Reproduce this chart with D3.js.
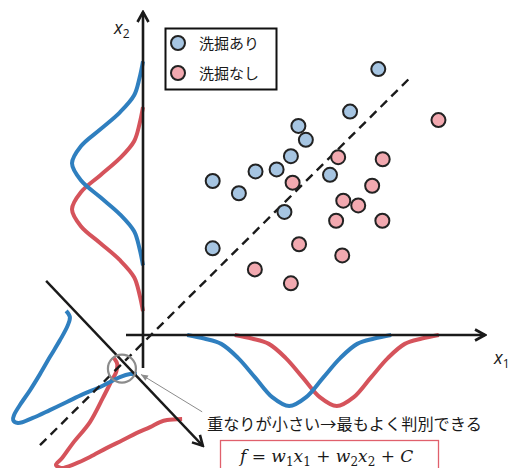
<!DOCTYPE html>
<html>
<head>
<meta charset="utf-8">
<script src="https://cdn.jsdelivr.net/npm/d3@7"></script>
<style>
	body { margin: 0; background: #fff; }
	text { font-family: "Noto Sans CJK JP", "Noto Sans", sans-serif; }
</style>
</head>
<body>
<svg id="chart" width="510" height="468"></svg>
<script>
// scatter: 洗掘あり (blue) / 洗掘なし (red), coords in (x1, x2)
const blueX1 = [6.92, 6.09, 4.57, 4.79, 4.35, 3.93, 3.31, 2.05, 2.82, 5.50, 4.16, 2.05];
const blueX2 = [7.82, 6.57, 6.15, 5.74, 5.26, 4.87, 4.81, 4.53, 4.17, 4.71, 3.62, 2.55];
const redX1 = [8.69, 5.74, 7.05, 4.40, 6.74, 5.89, 6.33, 5.68, 7.04, 4.59, 5.86, 3.29, 4.35];
const redX2 = [6.32, 5.23, 5.17, 4.48, 4.39, 3.95, 3.81, 3.36, 3.36, 2.67, 2.34, 1.93, 1.52];

// marginal densities (position along axis, density)
const densH = [0, 0.02, 0.05, 0.13, 0.24, 0.35, 0.40, 0.35, 0.24, 0.13, 0.05, 0.02, 0];
const blueMargX1 = [1.3, 1.8, 2.3, 2.8, 3.3, 3.8, 4.3, 4.8, 5.3, 5.8, 6.3, 6.8, 7.3];
const redMargX1 = [2.7, 3.2, 3.7, 4.2, 4.7, 5.2, 5.7, 6.2, 6.7, 7.2, 7.7, 8.2, 8.7];
const blueMargX2 = [2.05, 2.55, 3.05, 3.55, 4.05, 4.55, 5.05, 5.55, 6.05, 6.55, 7.05, 7.55, 8.05];
const redMargX2 = [0.7, 1.2, 1.7, 2.2, 2.7, 3.2, 3.7, 4.2, 4.7, 5.2, 5.7, 6.2, 6.7];

// distributions projected on the discriminant axis (drawn in the x1-x2 plane)
const blueProjX1 = [-2.26, -2.15, -2.21, -2.44, -2.74, -3.03, -3.32, -3.62, -3.79, -3.82, -3.68, -3.24, -2.74, -2.24, -1.76, -1.26, -0.97, -0.68, -0.38, -0.18];
const blueProjX2 = [0.71, 0.53, 0.29, -0.15, -0.65, -1.15, -1.62, -2.06, -2.35, -2.50, -2.59, -2.44, -2.21, -1.97, -1.74, -1.53, -1.38, -1.24, -1.15, -1.15];
const redProjX1 = [-0.88, -0.76, -0.79, -0.91, -1.18, -1.56, -2.06, -2.38, -2.56, -2.41, -2.00, -1.56, -1.06, -0.59, -0.18, 0.21, 0.50, 0.71, 1.15];
const redProjX2 = [-0.65, -0.85, -1.09, -1.32, -1.85, -2.56, -3.18, -3.62, -3.82, -3.91, -3.79, -3.59, -3.32, -3.09, -2.88, -2.71, -2.56, -2.50, -2.47];

// boundary (dashed) and projection axis
const boundaryX1 = [-3.03, 7.91];
const boundaryX2 = [-3.24, 7.62];
const projAxisX1 = [-2.85, 1.76];
const projAxisX2 = [1.59, -3.26];

const legendLabels = ['洗掘あり', '洗掘なし'];
const noteText = '重なりが小さい→最もよく判別できる';

const BLUE = '#2f7fbf', RED = '#d5535b';
const BLUE_FILL = '#a6c5e2', RED_FILL = '#f2a9b0';
const INK = '#1a1a1a';

const svg = d3.select('#chart');
const x = d3.scaleLinear().domain([0, 10]).range([143, 483]);
const y = d3.scaleLinear().domain([0, 10]).range([335, -5]);
const dens = d3.scaleLinear().domain([0, 0.4]).range([0, 71]);

const defs = svg.append('defs');
defs.append('marker')
	.attr('id', 'chev')
	.attr('viewBox', '-14 -8 16 16')
	.attr('refX', 0).attr('refY', 0)
	.attr('markerWidth', 16).attr('markerHeight', 16)
	.attr('markerUnits', 'userSpaceOnUse')
	.attr('orient', 'auto')
	.append('path')
	.attr('d', 'M-10,-5.5L0,0L-10,5.5')
	.attr('fill', 'none').attr('stroke', INK).attr('stroke-width', 2.6);
defs.append('marker')
	.attr('id', 'tri')
	.attr('viewBox', '-8 -4 9 8')
	.attr('refX', 0).attr('refY', 0)
	.attr('markerWidth', 9).attr('markerHeight', 8)
	.attr('markerUnits', 'userSpaceOnUse')
	.attr('orient', 'auto-start-reverse')
	.append('path')
	.attr('d', 'M-7,-3L0,0L-7,3Z')
	.attr('fill', '#8c8c8c');

const curveStyle = (sel, color) => sel
	.attr('fill', 'none').attr('stroke', color)
	.attr('stroke-width', 4).attr('stroke-linecap', 'butt');

// marginal curves on x1 (hang below the axis)
const lineX1 = d3.line()
	.x(d => x(d[0]))
	.y(d => y(0) + dens(d[1]))
	.curve(d3.curveCatmullRom.alpha(0.5));
// marginal curves on x2 (hang left of the axis)
const lineX2 = d3.line()
	.x(d => x(0) - dens(d[1]))
	.y(d => y(d[0]))
	.curve(d3.curveCatmullRom.alpha(0.5));

[[redMargX2, RED], [blueMargX2, BLUE]].forEach(([pos, c]) => {
	svg.append('path').datum(d3.zip(pos, densH)).attr('d', lineX2).call(curveStyle, c);
});
[[redMargX1, RED], [blueMargX1, BLUE]].forEach(([pos, c]) => {
	svg.append('path').datum(d3.zip(pos, densH)).attr('d', lineX1).call(curveStyle, c);
});

const planeLine = d3.line()
	.x(d => x(d[0]))
	.y(d => y(d[1]))
	.curve(d3.curveCatmullRom.alpha(0.5));

svg.append('path').datum(d3.zip(redProjX1, redProjX2)).attr('d', planeLine).call(curveStyle, RED);
svg.append('path').datum(d3.zip(blueProjX1, blueProjX2)).attr('d', planeLine).call(curveStyle, BLUE);

// axes
svg.append('line')
	.attr('x1', x(0)).attr('y1', y(-0.97))
	.attr('x2', x(0)).attr('y2', y(9.5))
	.attr('stroke', INK).attr('stroke-width', 2.6)
	.attr('marker-end', 'url(#chev)');
svg.append('line')
	.attr('x1', x(-0.5)).attr('y1', y(0))
	.attr('x2', x(10.06)).attr('y2', y(0))
	.attr('stroke', INK).attr('stroke-width', 2.6)
	.attr('marker-end', 'url(#chev)');
svg.append('line')
	.attr('x1', x(projAxisX1[0])).attr('y1', y(projAxisX2[0]))
	.attr('x2', x(projAxisX1[1])).attr('y2', y(projAxisX2[1]))
	.attr('stroke', INK).attr('stroke-width', 2.4)
	.attr('marker-end', 'url(#chev)');

// discriminant boundary
svg.append('line')
	.attr('x1', x(boundaryX1[0])).attr('y1', y(boundaryX2[0]))
	.attr('x2', x(boundaryX1[1])).attr('y2', y(boundaryX2[1]))
	.attr('stroke', INK).attr('stroke-width', 2.4)
	.attr('stroke-dasharray', '9 6');

// overlap marker + pointer
svg.append('circle')
	.attr('cx', x(-0.62)).attr('cy', y(-0.99)).attr('r', 14)
	.attr('fill', 'none').attr('stroke', '#8c8c8c').attr('stroke-width', 2.2);
svg.append('line')
	.attr('x1', x(1.74)).attr('y1', y(-2.26))
	.attr('x2', x(-0.06)).attr('y2', y(-1.16))
	.attr('stroke', '#8c8c8c').attr('stroke-width', 1)
	.attr('marker-end', 'url(#tri)');

// scatter points
const pts = d3.zip(blueX1, blueX2).map(d => ({ p: d, c: BLUE_FILL }))
	.concat(d3.zip(redX1, redX2).map(d => ({ p: d, c: RED_FILL })));
svg.append('g').selectAll('circle')
	.data(pts)
	.enter().append('circle')
	.attr('cx', d => x(d.p[0]))
	.attr('cy', d => y(d.p[1]))
	.attr('r', 7)
	.attr('fill', d => d.c)
	.attr('stroke', '#222').attr('stroke-width', 2);

// axis labels
const axLabel = (px, py, sub) => {
	const t = svg.append('text')
		.attr('x', px).attr('y', py)
		.style('font-family', '"Open Sans", sans-serif')
		.style('font-style', 'italic')
		.style('font-size', '18px')
		.attr('fill', INK);
	t.append('tspan').text('x');
	t.append('tspan').attr('dy', 4).style('font-size', '12px').style('font-style', 'normal').text(sub);
};
axLabel(114, 34, '2');
axLabel(494, 364, '1');

// legend
const lg = svg.append('g');
lg.append('rect')
	.attr('x', 165.5).attr('y', 28.5).attr('width', 111).attr('height', 61)
	.attr('fill', '#fff').attr('stroke', '#111').attr('stroke-width', 2);
legendLabels.forEach((lab, i) => {
	lg.append('circle')
		.attr('cx', 178).attr('cy', 43 + i * 30).attr('r', 7)
		.attr('fill', i ? RED_FILL : BLUE_FILL)
		.attr('stroke', '#222').attr('stroke-width', 2);
	lg.append('text')
		.attr('x', 199).attr('y', 49 + i * 30)
		.style('font-size', '15px').attr('fill', INK)
		.text(lab);
});

// note
svg.append('text')
	.attr('x', 207).attr('y', 430)
	.style('font-size', '16.2px').attr('fill', INK)
	.text(noteText);

// formula box
svg.append('rect')
	.attr('x', 220.5).attr('y', 440.5).attr('width', 218).attr('height', 40)
	.attr('fill', '#fff').attr('stroke', '#e0606c').attr('stroke-width', 1.3);
const f = svg.append('text')
	.attr('x', 240).attr('y', 462)
	.style('font-family', '"DejaVu Serif", serif')
	.style('font-style', 'italic')
	.style('font-size', '17px')
	.style('white-space', 'pre')
	.attr('fill', INK);
[['f = w', 0], ['1', 4], ['x', -4], ['1', 4], [' + w', -4], ['2', 4], ['x', -4], ['2', 4], [' + C', -4]]
	.forEach(([s, dy]) => {
		const t = f.append('tspan').attr('dy', dy).text(s);
		if (dy > 0) t.style('font-size', '12px').style('font-style', 'normal');
	});
</script>
</body>
</html>
